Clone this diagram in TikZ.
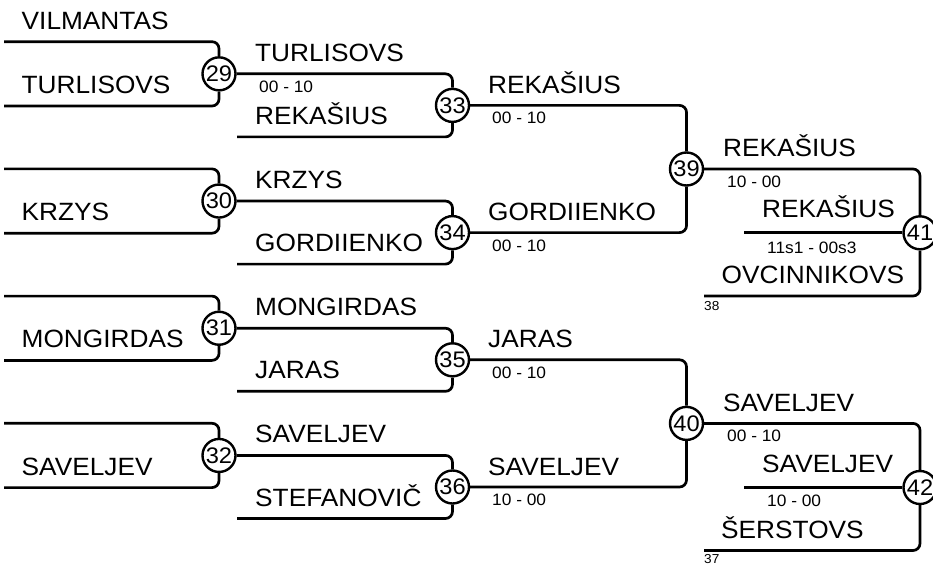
\documentclass[tikz,border=0pt]{standalone}
\usepackage{fontspec}
\setmainfont{Liberation Sans}[FakeStretch=1.05]
\tikzset{
  ln/.style={line width=2.7pt, rounded corners=7pt},
  mc/.style={circle, draw, line width=2.4pt, minimum size=33pt, inner sep=0pt, fill=white,
    font=\fontsize{22.5}{22.5}\selectfont},
  nm/.style={anchor=base west, inner sep=0pt, font=\fontsize{25}{25}\selectfont},
  sc/.style={anchor=base west, inner sep=0pt, font=\fontsize{16.5}{16.5}\selectfont},
  sm/.style={anchor=base west, inner sep=0pt, font=\fontsize{13}{13}\selectfont},
}
\begin{document}
\begin{tikzpicture}[x=1pt,y=-1pt]
\useasboundingbox (0,0) rectangle (933,564);

% match circles
\node[mc] (c29) at (219,73.85) {29};
\node[mc] (c30) at (219,201.05) {30};
\node[mc] (c31) at (219,328.25) {31};
\node[mc] (c32) at (219,455.45) {32};
\node[mc] (c33) at (452.5,105.4) {33};
\node[mc] (c34) at (452.5,232.6) {34};
\node[mc] (c35) at (452.5,359.8) {35};
\node[mc] (c36) at (452.5,487.0) {36};
\node[mc] (c39) at (686.5,169) {39};
\node[mc] (c40) at (686.5,423.4) {40};
\node[mc] (c41) at (920,232.8) {41};
\node[mc] (c42) at (920,487.5) {42};

% free ends
\coordinate (a29) at (4,41.7);   \coordinate (b29) at (4,106);
\coordinate (a30) at (4,168.9);  \coordinate (b30) at (4,233.2);
\coordinate (a31) at (4,296.1);  \coordinate (b31) at (4,360.4);
\coordinate (a32) at (4,423.3);  \coordinate (b32) at (4,487.6);
\coordinate (b33) at (237,136.9);
\coordinate (b34) at (237,264.1);
\coordinate (b35) at (237,391.3);
\coordinate (b36) at (237,518.5);
\coordinate (m41) at (744,232.8); \coordinate (s41) at (704,296);
\coordinate (m42) at (744,487.5); \coordinate (s42) at (704,550.5);

% round 1
\foreach \m in {29,30,31,32}{
  \draw[ln] (a\m) -- (c\m.north |- a\m) -- (c\m.north);
  \draw[ln] (b\m) -- (c\m.south |- b\m) -- (c\m.south);
}
% round 2
\draw[ln] (c29.east) -- (c33.north |- c29.east) -- (c33.north);
\draw[ln] (b33) -- (c33.south |- b33) -- (c33.south);
\draw[ln] (c30.east) -- (c34.north |- c30.east) -- (c34.north);
\draw[ln] (b34) -- (c34.south |- b34) -- (c34.south);
\draw[ln] (c31.east) -- (c35.north |- c31.east) -- (c35.north);
\draw[ln] (b35) -- (c35.south |- b35) -- (c35.south);
\draw[ln] (c32.east) -- (c36.north |- c32.east) -- (c36.north);
\draw[ln] (b36) -- (c36.south |- b36) -- (c36.south);
% round 3
\draw[ln] (c33.east) -- (c39.north |- c33.east) -- (c39.north);
\draw[ln] (c34.east) -- (c39.south |- c34.east) -- (c39.south);
\draw[ln] (c35.east) -- (c40.north |- c35.east) -- (c40.north);
\draw[ln] (c36.east) -- (c40.south |- c36.east) -- (c40.south);
% finals
\draw[ln] (c39.east) -- (c41.north |- c39.east) -- (c41.north);
\draw[ln] (m41) -- (c41.west);
\draw[ln] (s41) -- (c41.south |- s41) -- (c41.south);
\draw[ln] (c40.east) -- (c42.north |- c40.east) -- (c42.north);
\draw[ln] (m42) -- (c42.west);
\draw[ln] (s42) -- (c42.south |- s42) -- (c42.south);

% round 1 names
\node[nm] (n1) at (21.5,29.5) {VILMANTAS};
\node[nm] (n2) at (21.5,93.3) {TURLISOVS};
\node[nm] (n3) at (21.5,220.7) {KRZYS};
\node[nm] (n4) at (21.5,347.9) {MONGIRDAS};
\node[nm] (n5) at (21.5,475.1) {SAVELJEV};
% round 2 names
\node[nm] (n6) at (255,61.35) {TURLISOVS};
\node[sc] (s6) at (259,92.3) {00 - 10};
\node[nm] (n7) at (255,124.4) {REKAŠIUS};
\node[nm] (n8) at (255,188.55) {KRZYS};
\node[nm] (n9) at (255,251.6) {GORDIIENKO};
\node[nm] (n10) at (255,315.75) {MONGIRDAS};
\node[nm] (n11) at (255,378.8) {JARAS};
\node[nm] (n12) at (255,442.95) {SAVELJEV};
\node[nm] (n13) at (255,506) {STEFANOVIČ};
% round 3 names
\node[nm] (n14) at (488,93.4) {REKAŠIUS};
\node[sc] (s14) at (492,123.9) {00 - 10};
\node[nm] (n15) at (488,220.6) {GORDIIENKO};
\node[sc] (s15) at (492,251.1) {00 - 10};
\node[nm] (n16) at (488,347.8) {JARAS};
\node[sc] (s16) at (492,378.3) {00 - 10};
\node[nm] (n17) at (488,475) {SAVELJEV};
\node[sc] (s17) at (492,505.5) {10 - 00};
% final 41
\node[nm] (n18) at (723,157) {REKAŠIUS};
\node[sc] (s18) at (727,187.5) {10 - 00};
\node[nm] (n19) at (762,217.3) {REKAŠIUS};
\node[sc] (s19) at (767,253.3) {11s1 - 00s3};
\node[nm] (n20) at (721.5,283.5) {OVCINNIKOVS};
\node[sm] (k20) at (704,310) {38};
% final 42
\node[nm] (n21) at (723,411.4) {SAVELJEV};
\node[sc] (s21) at (727,441.9) {00 - 10};
\node[nm] (n22) at (762,472.2) {SAVELJEV};
\node[sc] (s22) at (767,506.7) {10 - 00};
\node[nm] (n23) at (721,538.5) {ŠERSTOVS};
\node[sm] (k23) at (704,563) {37};
\end{tikzpicture}
\end{document}
